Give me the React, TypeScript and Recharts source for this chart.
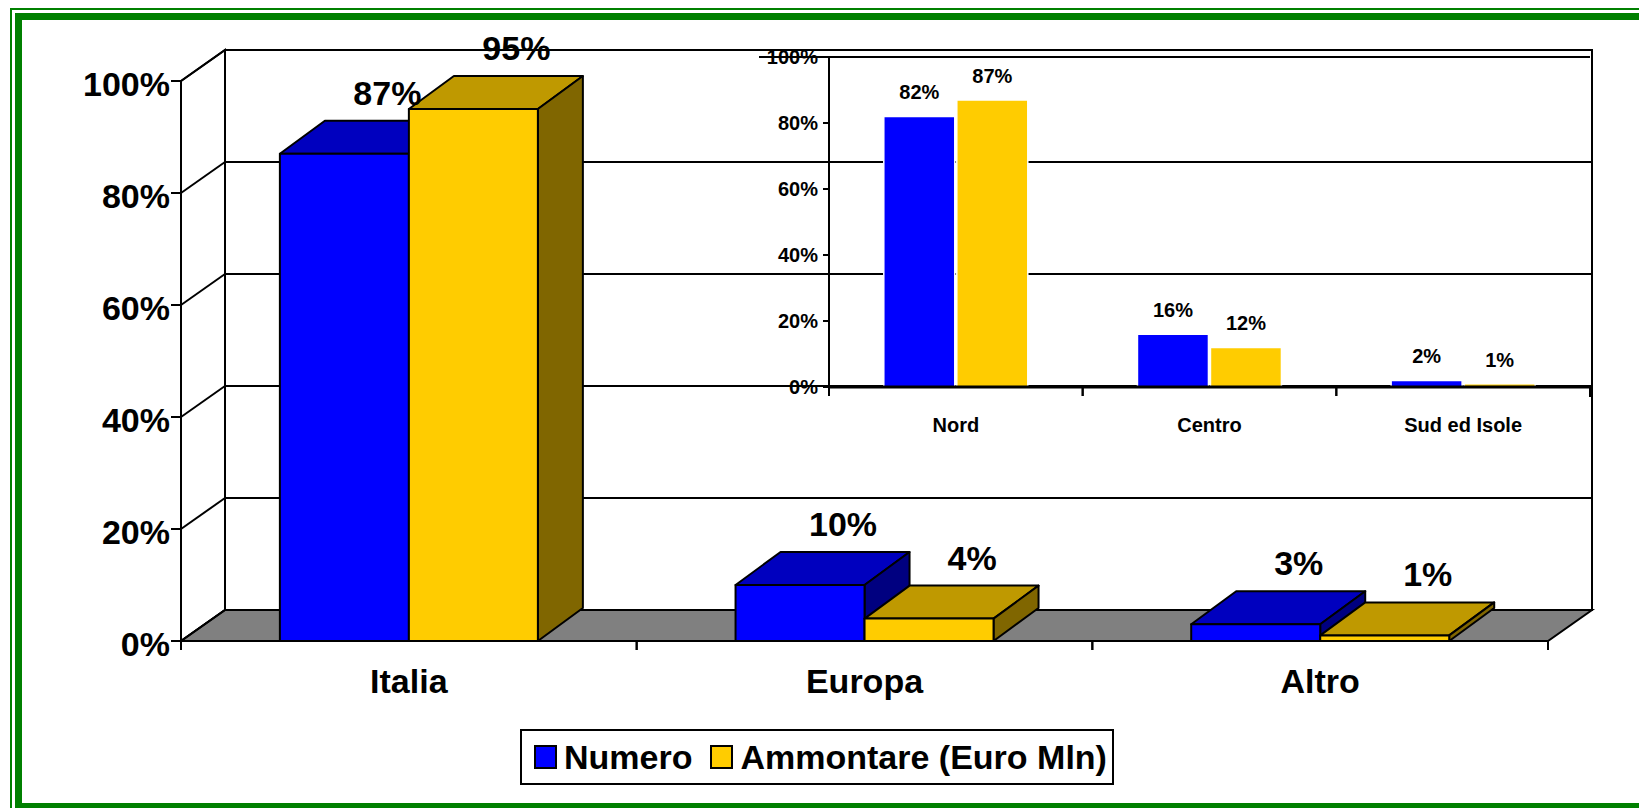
import React from 'react';
import { BarChart, Bar, XAxis, YAxis, CartesianGrid, LabelList, Legend, ReferenceLine } from 'recharts';

// ---------- data ----------
const regions = ['Italia', 'Europa', 'Altro'];
const numero = [0.87, 0.1, 0.03];
const ammontare = [0.95, 0.04, 0.01];

const areas = ['Nord', 'Centro', 'Sud ed Isole'];
const numeroArea = [0.82, 0.16, 0.02];
const ammontareArea = [0.87, 0.12, 0.01];

const yTicks = [0, 0.2, 0.4, 0.6, 0.8, 1];
const seriesNames = ['Numero', 'Ammontare (Euro Mln)'];

const mainData = regions.map((r, i) => ({ name: r, numero: numero[i], ammontare: ammontare[i] }));
const insetData = areas.map((a, i) => ({ name: a, numero: numeroArea[i], ammontare: ammontareArea[i] }));

// ---------- styles ----------
const FONT = '"Liberation Sans", Arial, Helvetica, sans-serif';
const BLUE = '#0000FF';
const YELLOW = '#FFCC00';
const DX = 44; // wall depth (x)
const DY = 31; // wall depth (y)
const BDX = 45; // bar depth
const BDY = 33;
const LW = 2;

const pct = (v: number) => `${Math.round(v * 100)}%`;

const make3D = (front: string, top: string, side: string) => (props: any) => {
  const { x, y, width, height } = props;
  if (x == null || width == null || !isFinite(x)) return <g />;
  const h = Math.max(height || 0, 0);
  return (
    <g stroke="#000" strokeWidth={LW} strokeLinejoin="round">
      <polygon points={`${x},${y} ${x + width},${y} ${x + width + BDX},${y - BDY} ${x + BDX},${y - BDY}`} fill={top} />
      <polygon
        points={`${x + width},${y} ${x + width + BDX},${y - BDY} ${x + width + BDX},${y + h - BDY} ${x + width},${y + h}`}
        fill={side}
      />
      <rect x={x} y={y} width={width} height={h} fill={front} />
    </g>
  );
};

const BlueBox = make3D(BLUE, '#0000BF', '#000080');
const YellowBox = make3D(YELLOW, '#BF9900', '#806600');

const gridLine = (props: any) => {
  const { x, y, width, height, y1, index } = props;
  const parts: React.ReactNode[] = [];
  if (index === 0) {
    parts.push(
      <rect key="back" x={x + DX} y={y - DY} width={width} height={height} fill="#fff" stroke="#000" strokeWidth={LW} />,
      <polygon
        key="side"
        points={`${x},${y} ${x + DX},${y - DY} ${x + DX},${y + height - DY} ${x},${y + height}`}
        fill="#fff"
        stroke="#000"
        strokeWidth={LW}
      />,
      <polygon
        key="floor"
        points={`${x},${y + height} ${x + width},${y + height} ${x + width + DX},${y + height - DY} ${x + DX},${y + height - DY}`}
        fill="#808080"
        stroke="#000"
        strokeWidth={LW}
      />
    );
  }
  parts.push(
    <line key="b" x1={x + DX} y1={y1 - DY} x2={x + width + DX} y2={y1 - DY} stroke="#000" strokeWidth={LW} />,
    <line key="s" x1={x} y1={y1} x2={x + DX} y2={y1 - DY} stroke="#000" strokeWidth={LW} />
  );
  return <g key={`grid-${index}`}>{parts}</g>;
};

const getBox = (props: any) => {
  const vb = props.viewBox && props.viewBox.width != null ? props.viewBox : props;
  return { x: Number(vb.x), y: Number(vb.y), width: Number(vb.width) };
};

const mainLabel = (props: any) => {
  const { x, y, width } = getBox(props);
  return (
    <text x={x + width / 2 + 43} y={y - 49} textAnchor="middle" fontFamily={FONT} fontWeight="bold" fontSize={34} fill="#000">
      {pct(Number(props.value))}
    </text>
  );
};

const insetLabel = (props: any) => {
  const { x, y, width } = getBox(props);
  return (
    <text x={x + width / 2} y={y - 17} textAnchor="middle" fontFamily={FONT} fontWeight="bold" fontSize={20} fill="#000">
      {pct(Number(props.value))}
    </text>
  );
};

const MainYTick = (props: any) => {
  const { x, y, payload } = props;
  return (
    <text x={x} y={y + 15} textAnchor="end" fontFamily={FONT} fontWeight="bold" fontSize={34} fill="#000">
      {pct(payload.value)}
    </text>
  );
};

const MainXTick = (props: any) => {
  const { x, y, payload } = props;
  const off = Number(payload.offset) || 0;
  return (
    <g>
      {off > 0 && <line x1={x - off} y1={y} x2={x - off} y2={y + 9} stroke="#000" strokeWidth={LW} />}
      {off > 0 && <line x1={x + off} y1={y} x2={x + off} y2={y + 9} stroke="#000" strokeWidth={LW} />}
      <text x={x} y={y + 52} textAnchor="middle" fontFamily={FONT} fontWeight="bold" fontSize={34} fill="#000">
        {payload.value}
      </text>
    </g>
  );
};

const InsetYTick = (props: any) => {
  const { x, y, payload } = props;
  return (
    <text x={x} y={y + 7} textAnchor="end" fontFamily={FONT} fontWeight="bold" fontSize={20} fill="#000">
      {pct(payload.value)}
    </text>
  );
};

const InsetXTick = (props: any) => {
  const { x, y, payload } = props;
  const off = Number(payload.offset) || 0;
  return (
    <g>
      {off > 0 && <line x1={x - off} y1={y} x2={x - off} y2={y + 9} stroke="#000" strokeWidth={LW} />}
      {off > 0 && <line x1={x + off} y1={y} x2={x + off} y2={y + 9} stroke="#000" strokeWidth={LW} />}
      <text x={x} y={y + 45} textAnchor="middle" fontFamily={FONT} fontWeight="bold" fontSize={20} fill="#000">
        {payload.value}
      </text>
    </g>
  );
};

const LegendBox = (props: any) => {
  const raw: any[] = props.payload || [];
  const items = [...raw].sort((a, b) => seriesNames.indexOf(a.value) - seriesNames.indexOf(b.value));
  return (
    <div
      style={{
        boxSizing: 'border-box',
        width: 594,
        height: 56,
        border: '2px solid #000',
        background: '#fff',
        display: 'flex',
        alignItems: 'center',
        paddingLeft: 12,
        fontFamily: FONT,
        fontWeight: 'bold',
        fontSize: 34,
        color: '#000',
        lineHeight: 1,
        whiteSpace: 'nowrap',
      }}
    >
      {items.map((it, i) => (
        <div key={i} style={{ display: 'flex', alignItems: 'center', marginRight: 18 }}>
          <span
            style={{
              display: 'inline-block',
              width: 23,
              height: 24,
              boxSizing: 'border-box',
              border: '2px solid #000',
              background: it.color,
              marginRight: 7,
            }}
          />
          <span>{it.value}</span>
        </div>
      ))}
    </div>
  );
};

export default function App() {
  return (
    <div style={{ position: 'absolute', left: 0, top: 0, width: 1639, height: 808, overflow: 'hidden', background: '#fff' }}>
      <div style={{ position: 'absolute', left: 0, top: 0 }}>
        <BarChart
          width={1639}
          height={808}
          data={mainData}
          margin={{ top: 81, right: 91, bottom: 51, left: 61 }}
          barCategoryGap="21.7%"
          barGap={0}
        >
          <CartesianGrid vertical={false} horizontal={gridLine} />
          <XAxis
            dataKey="name"
            interval={0}
            height={60}
            tickSize={0}
            tickMargin={0}
            tickLine={false}
            axisLine={{ stroke: '#000', strokeWidth: LW }}
            tick={MainXTick}
          />
          <YAxis
            type="number"
            domain={[0, 1]}
            ticks={yTicks}
            width={120}
            tickSize={10}
            tickMargin={1}
            tickLine={{ stroke: '#000', strokeWidth: LW }}
            axisLine={{ stroke: '#000', strokeWidth: LW }}
            tick={MainYTick}
          />
          <Legend
            content={LegendBox}
            itemSorter={null as any}
            wrapperStyle={{ left: 520, top: 729, width: 594, height: 56 }}
          />
          <Bar dataKey="numero" name={seriesNames[0]} fill={BLUE} shape={BlueBox} isAnimationActive={false}>
            <LabelList dataKey="numero" content={mainLabel} />
          </Bar>
          <Bar dataKey="ammontare" name={seriesNames[1]} fill={YELLOW} shape={YellowBox} isAnimationActive={false}>
            <LabelList dataKey="ammontare" content={mainLabel} />
          </Bar>
        </BarChart>
      </div>

      <div style={{ position: 'absolute', left: 740, top: 30 }}>
        <BarChart
          width={870}
          height={420}
          data={insetData}
          margin={{ top: 27, right: 20, bottom: 23, left: 29 }}
          barCategoryGap="21.6%"
          barGap={2}
        >
          <XAxis
            dataKey="name"
            interval={0}
            height={40}
            tickSize={0}
            tickMargin={0}
            tickLine={false}
            axisLine={{ stroke: '#000', strokeWidth: 3 }}
            tick={InsetXTick}
          />
          <YAxis
            type="number"
            domain={[0, 1]}
            ticks={yTicks}
            width={60}
            tickSize={6}
            tickMargin={5}
            tickLine={{ stroke: '#000', strokeWidth: LW }}
            axisLine={{ stroke: '#000', strokeWidth: LW }}
            tick={InsetYTick}
          />
          <ReferenceLine
            y={1}
            stroke="#000"
            strokeWidth={LW}
            shape={(p: any) => <line x1={p.x1 - 70} y1={p.y1} x2={p.x2} y2={p.y2} stroke="#000" strokeWidth={LW} />}
          />
          <ReferenceLine
            x={areas[areas.length - 1]}
            position="end"
            stroke="#000"
            strokeWidth={LW}
            shape={(p: any) => <line x1={p.x1} y1={p.y1} x2={p.x2} y2={Math.max(p.y1, p.y2) + 10} stroke="#000" strokeWidth={LW} />}
          />
          <Bar dataKey="numero" name={seriesNames[0]} fill={BLUE} stroke="#fff" strokeWidth={1.5} isAnimationActive={false}>
            <LabelList dataKey="numero" content={insetLabel} />
          </Bar>
          <Bar dataKey="ammontare" name={seriesNames[1]} fill={YELLOW} stroke="#fff" strokeWidth={1.5} isAnimationActive={false}>
            <LabelList dataKey="ammontare" content={insetLabel} />
          </Bar>
        </BarChart>
      </div>

      <div
        style={{
          position: 'absolute',
          left: 10,
          top: 8,
          width: 1700,
          height: 900,
          boxSizing: 'border-box',
          border: '2px solid #008000',
          pointerEvents: 'none',
        }}
      />
      <div
        style={{
          position: 'absolute',
          left: 15,
          top: 13,
          width: 1700,
          height: 797,
          boxSizing: 'border-box',
          border: '7px solid #008000',
          pointerEvents: 'none',
        }}
      />
    </div>
  );
}
